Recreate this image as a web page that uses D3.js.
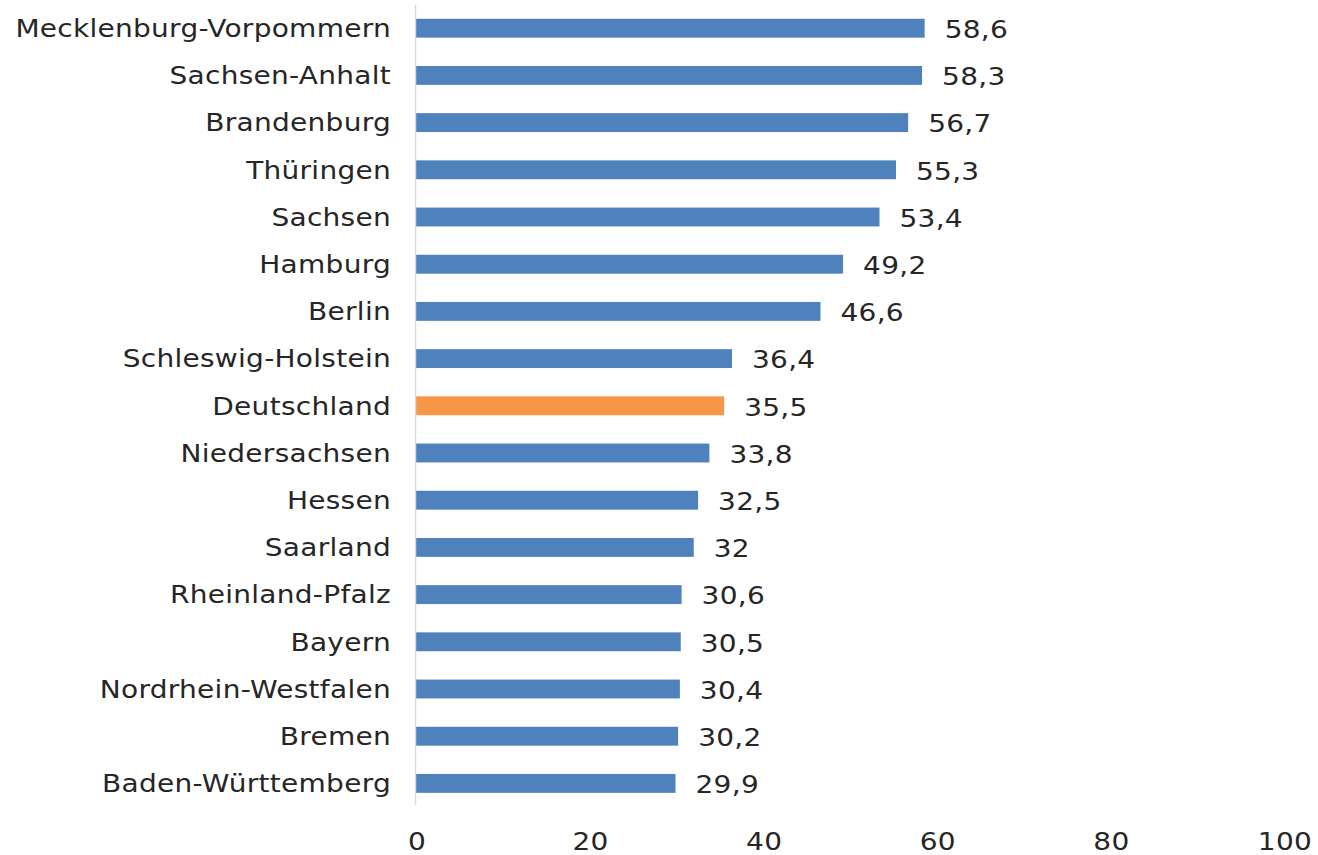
<!DOCTYPE html>
<html>
<head>
<meta charset="utf-8">
<script src="https://cdn.jsdelivr.net/npm/d3@7"></script>
<style>
  body { margin: 0; background: #fff; }
  text { font-family: "DejaVu Sans", Verdana, sans-serif; fill: #262626; font-size: 25px; letter-spacing: 0.25px; }
</style>
</head>
<body>
<div id="chart"></div>
<script>
const states = ["Mecklenburg-Vorpommern", "Sachsen-Anhalt", "Brandenburg", "Thüringen", "Sachsen",
  "Hamburg", "Berlin", "Schleswig-Holstein", "Deutschland", "Niedersachsen", "Hessen", "Saarland",
  "Rheinland-Pfalz", "Bayern", "Nordrhein-Westfalen", "Bremen", "Baden-Württemberg"];
const values = [58.6, 58.3, 56.7, 55.3, 53.4, 49.2, 46.6, 36.4, 35.5, 33.8, 32.5, 32, 30.6, 30.5, 30.4, 30.2, 29.9];
const ticks = [0, 20, 40, 60, 80, 100];
const highlight = "Deutschland";

const width = 1318, height = 855;
const margin = { left: 416, right: 34, top: 4.6, bottom: 48 };
const stretch = 1.12; // the original font is wider than DejaVu

const svg = d3.select("#chart").append("svg")
  .attr("width", width)
  .attr("height", height);

const x = d3.scaleLinear()
  .domain([0, 100])
  .range([margin.left, width - margin.right]);

const y = d3.scaleBand()
  .domain(states)
  .range([margin.top, height - margin.bottom])
  .paddingInner(0.6)
  .paddingOuter(0.3);

const fmt = v => String(v).replace(".", ",");
const place = (px, py) => "translate(" + px + "," + py + ") scale(" + stretch + ",1)";

// bars
svg.selectAll("rect.bar")
  .data(states)
  .enter()
  .append("rect")
  .attr("class", "bar")
  .attr("x", x(0))
  .attr("y", d => y(d))
  .attr("width", (d, i) => x(values[i]) - x(0))
  .attr("height", y.bandwidth())
  .attr("fill", d => d === highlight ? "#f79646" : "#4f81bd");

// vertical axis line
svg.append("line")
  .attr("x1", x(0) - 0.5).attr("x2", x(0) - 0.5)
  .attr("y1", 5).attr("y2", 805)
  .attr("stroke", "#d9d9d9")
  .attr("stroke-width", 1.5);

// category labels
svg.selectAll("text.cat")
  .data(states)
  .enter()
  .append("text")
  .attr("class", "cat")
  .attr("transform", d => place(x(0) - 25, y(d) + y.bandwidth() / 2))
  .attr("dy", "0.35em")
  .attr("text-anchor", "end")
  .text(d => d);

// value labels
svg.selectAll("text.val")
  .data(states)
  .enter()
  .append("text")
  .attr("class", "val")
  .attr("transform", (d, i) => place(x(values[i]) + 20, y(d) + y.bandwidth() / 2 + 1))
  .attr("dy", "0.35em")
  .text((d, i) => fmt(values[i]));

// x tick labels
svg.selectAll("text.tick")
  .data(ticks)
  .enter()
  .append("text")
  .attr("class", "tick")
  .attr("transform", d => place(x(d) + 1, 841))
  .attr("dy", "0.35em")
  .attr("text-anchor", "middle")
  .text(d => d);
</script>
</body>
</html>
